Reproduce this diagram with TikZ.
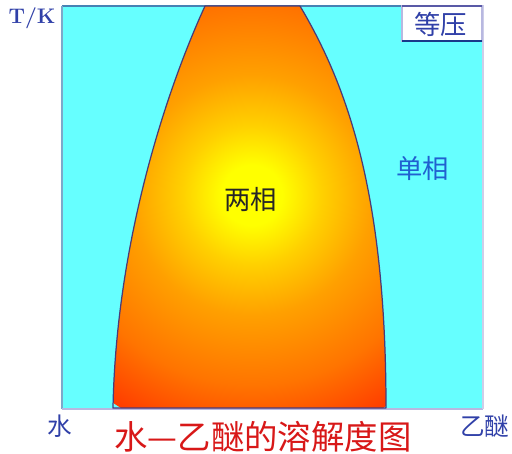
\documentclass[tikz,border=0pt]{standalone}
\usepackage{fontspec}
\newfontfamily\cjk{Noto Sans CJK SC}
\usetikzlibrary{positioning}

\definecolor{phasecyan}{HTML}{66FFFF}
\definecolor{frameblue}{HTML}{4682B4}
\definecolor{edgelav}{HTML}{B8B8E0}
\definecolor{curveblue}{HTML}{4A3A78}
\definecolor{labelblue}{HTML}{3040A8}
\definecolor{singleblue}{HTML}{2060D0}
\definecolor{titlered}{HTML}{D81818}
\definecolor{boxnavy}{HTML}{1A3A8A}
\definecolor{hotyellow}{HTML}{FFFF00}
\definecolor{lightorange}{HTML}{FFD000}
\definecolor{midorange}{HTML}{FFA000}
\definecolor{deeporange}{HTML}{FF7400}
\definecolor{redorange}{HTML}{FF3C00}

\pgfdeclareradialshading{twophase}{\pgfpoint{0bp}{0bp}}{%
  color(0bp)=(hotyellow); color(3bp)=(hotyellow); color(7bp)=(lightorange);
  color(12bp)=(midorange); color(19bp)=(deeporange); color(25bp)=(redorange);
  color(50bp)=(redorange)}

\begin{document}
\begin{tikzpicture}[
  x=0.02cm, y=-0.02cm,
  lbl/.style={font=\cjk\fontsize{15}{15}\selectfont, inner sep=0pt},
  axislbl/.style={font=\cjk\fontsize{14}{14}\selectfont, text=labelblue, inner sep=0pt},
  titlelbl/.style={font=\cjk\fontsize{19}{19}\selectfont, text=titlered, inner sep=0pt},
]
\useasboundingbox (0,0) rectangle (512,454);

% single-phase field
\fill[phasecyan] (62,5) rectangle (482,410);
\draw[frameblue, line width=1.6pt] (62,6) -- (482,6);
\draw[frameblue!70, line width=1pt] (62,6) -- (62,409);
\draw[edgelav, line width=1.2pt] (62,409) -- (483,409);
\draw[edgelav!70, line width=1.2pt] (483,5) -- (483,409);

% two-phase region
\path[path picture={\shade[shading=twophase] (252,195) circle (250);},
      draw=curveblue, line width=0.7pt, line join=round]
  (113,408) .. controls (116,250) and (162,100) .. (205,6)
  -- (300,6) .. controls (350,90) and (386,200) .. (386,408) -- cycle;

% pressure box
\filldraw[fill=white, draw=edgelav, line width=0.8pt] (402,6) rectangle (482,41);
\draw[boxnavy, line width=1.2pt] (402,41) -- (482,41);
\draw[gray!70!blue, line width=1.2pt] (402,6) -- (482,6);

\node[lbl, text=labelblue] (press) at (441,24) {等压};
\node[lbl, text=black!85] (two) at (251,199) {两相};
\node[lbl, text=singleblue] (single) at (423,168) {单相};
\node[font=\bfseries\fontsize{12}{12}\selectfont, text=labelblue, inner sep=0pt] (temp) at (32,18) {T/K};
\node[axislbl] (water) at (60,426) {水};
\node[axislbl, anchor=west] (ether) at (460,426) {乙醚};
\node[titlelbl] (title) at (263,437) {水—乙醚的溶解度图};
\end{tikzpicture}
\end{document}
